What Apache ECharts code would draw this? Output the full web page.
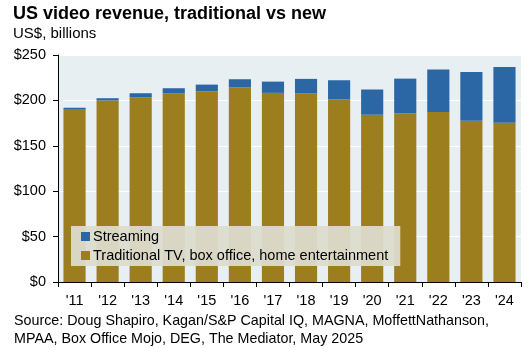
<!DOCTYPE html>
<html><head><meta charset="utf-8">
<script src="https://cdn.jsdelivr.net/npm/echarts@6/dist/echarts.min.js"></script>
<style>html,body{margin:0;padding:0;background:#fff}#c{width:530px;height:349px}</style>
</head><body><div id="c"></div>
<script>
var categories = ["'11","'12","'13","'14","'15","'16","'17","'18","'19","'20","'21","'22","'23","'24"];
var traditional = [189.7, 199.9, 203.2, 207.6, 210.1, 214.5, 208.3, 207.6, 201.0, 184.2, 185.6, 187.1, 177.6, 175.4];
var streaming = [2.2, 2.5, 4.7, 5.8, 7.3, 8.8, 12.4, 16.1, 21.2, 27.8, 38.4, 46.8, 53.8, 61.4];
var yTicks = [0, 50, 100, 150, 200, 250];
var font = 'Liberation Sans, Arial, sans-serif';
var chart = echarts.init(document.getElementById('c'));
chart.setOption({
  animation: false,
  title: [
    {text: 'US video revenue, traditional vs new', left: 8, top: 0, textStyle: {fontFamily: font, fontSize: 18, fontWeight: 'bold', color: '#000'}},
    {text: 'US$, billions', left: 8, top: 21, textStyle: {fontFamily: font, fontSize: 15, fontWeight: 'normal', color: '#000'}},
    {text: 'Source: Doug Shapiro, Kagan/S&P Capital IQ, MAGNA, MoffettNathanson,\nMPAA, Box Office Mojo, DEG, The Mediator, May 2025', left: 9, top: 307,
     textStyle: {fontFamily: font, fontSize: 14.3, fontWeight: 'normal', color: '#000', lineHeight: 18}}
  ],
  grid: {left: 58, right: 9, top: 55, bottom: 67, show: true, backgroundColor: '#E8EFF3', borderWidth: 0},
  legend: {
    orient: 'vertical', left: 71, top: 226, itemWidth: 9, itemHeight: 9, itemGap: 4, icon: 'rect',
    backgroundColor: 'rgba(220,220,206,0.95)', padding: [3, 12, 3, 10],
    textStyle: {fontFamily: font, fontSize: 14.5, color: '#000', padding: [0,0,0,-2]},
    data: ['Streaming', 'Traditional TV, box office, home entertainment']
  },
  xAxis: {
    type: 'category', data: categories,
    axisLine: {lineStyle: {color: '#000', width: 1}},
    axisTick: {show: true, alignWithLabel: false, length: 5, lineStyle: {color: '#000'}},
    axisLabel: {fontFamily: font, fontSize: 14.5, color: '#000', margin: 11}
  },
  yAxis: {
    type: 'value', min: 0, max: 250, interval: 50,
    axisLine: {show: true, lineStyle: {color: '#000'}},
    axisTick: {show: true, length: 5, lineStyle: {color: '#000'}},
    splitLine: {lineStyle: {color: '#fff', width: 1}},
    axisLabel: {fontFamily: font, fontSize: 14.5, color: '#000', margin: 12,
      formatter: function(v){ return yTicks.indexOf(v) >= 0 ? '$' + v : ''; }}
  },
  series: [
    {name: 'Traditional TV, box office, home entertainment', type: 'bar', stack: 'a', data: traditional,
     barCategoryGap: '33%', itemStyle: {color: '#9C7E1E'}},
    {name: 'Streaming', type: 'bar', stack: 'a', data: streaming,
     itemStyle: {color: '#2A67A4'}}
  ]
});
</script></body></html>
